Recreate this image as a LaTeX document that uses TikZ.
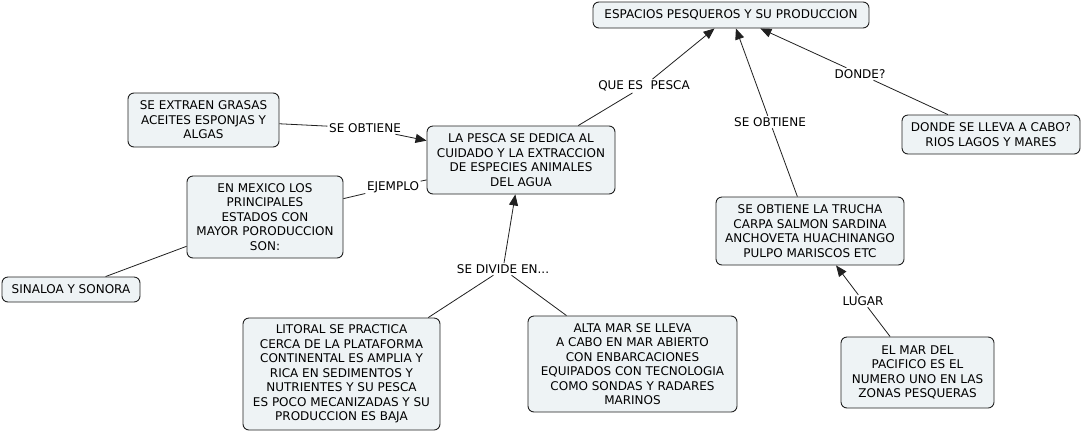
\documentclass[tikz,border=0pt]{standalone}
\usepackage{fontspec}
\setmainfont{DejaVu Sans}
\usetikzlibrary{arrows.meta}
\definecolor{boxfill}{HTML}{EEF3F5}
\definecolor{boxline}{HTML}{202020}
\tikzset{
  concept/.style={draw=boxline, line width=0.9pt, fill=boxfill, rounded corners=6pt,
    align=center, inner sep=0pt, font=\fontsize{12}{14.5}\selectfont},
  linkl/.style={inner sep=1.5pt, font=\fontsize{12}{14.5}\selectfont},
  conn/.style={line width=0.8pt, draw=boxline},
  arr/.style={conn, -{Triangle[length=11pt,width=9pt]}}
}
\begin{document}
\begin{tikzpicture}[x=1pt,y=-1pt]
\useasboundingbox (0,0) rectangle (1083,432);
\fill[white] (0,0) rectangle (1083,432);

\node[concept, minimum width=276pt, minimum height=26pt] (top) at (731,15) {ESPACIOS PESQUEROS Y SU PRODUCCION};
\node[concept, minimum width=188pt, minimum height=68pt] (pesca) at (521,160) {LA PESCA SE DEDICA AL\\CUIDADO Y LA EXTRACCION\\DE ESPECIES ANIMALES\\DEL AGUA};
\node[concept, minimum width=151pt, minimum height=54pt] (extraen) at (203.5,120) {SE EXTRAEN GRASAS\\ACEITES ESPONJAS Y\\ALGAS};
\node[concept, minimum width=156pt, minimum height=82pt] (mexico) at (265,217) {EN MEXICO LOS\\PRINCIPALES\\ESTADOS CON\\MAYOR PORODUCCION\\SON:};
\node[concept, minimum width=138pt, minimum height=25pt] (sinaloa) at (71,289.5) {SINALOA Y SONORA};
\node[concept, minimum width=197pt, minimum height=112pt] (litoral) at (341.5,374) {LITORAL SE PRACTICA\\CERCA DE LA PLATAFORMA\\CONTINENTAL ES AMPLIA Y\\RICA EN SEDIMENTOS Y\\NUTRIENTES Y SU PESCA\\ES POCO MECANIZADAS Y SU\\PRODUCCION ES BAJA};
\node[concept, minimum width=209pt, minimum height=96pt] (alta) at (632.5,364) {ALTA MAR SE LLEVA\\A CABO EN MAR ABIERTO\\CON ENBARCACIONES\\EQUIPADOS CON TECNOLOGIA\\COMO SONDAS Y RADARES\\MARINOS};
\node[concept, minimum width=188pt, minimum height=68pt] (trucha) at (810,231) {SE OBTIENE LA TRUCHA\\CARPA SALMON SARDINA\\ANCHOVETA HUACHINANGO\\PULPO MARISCOS ETC};
\node[concept, minimum width=178pt, minimum height=39pt] (donde) at (991,134.5) {DONDE SE LLEVA A CABO?\\RIOS LAGOS Y MARES};
\node[concept, minimum width=153pt, minimum height=71pt] (mar) at (917.5,372.5) {EL MAR DEL\\PACIFICO ES EL\\NUMERO UNO EN LAS\\ZONAS PESQUERAS};

\node[linkl] (lque) at (644,86) {QUE ES\ \ PESCA};
\node[linkl] (lobt2) at (770,122) {SE OBTIENE};
\node[linkl] (ldonde) at (860,74) {DONDE?};
\node[linkl] (lobt1) at (365,128) {SE OBTIENE};
\node[linkl] (lejem) at (393,187) {EJEMPLO};
\node[linkl] (ldiv) at (503,269) {SE DIVIDE EN...};
\node[linkl] (llugar) at (863,301) {LUGAR};

\draw[conn] (pesca) -- (lque);
\draw[arr] (lque) -- (top);
\draw[conn] (trucha) -- (lobt2);
\draw[arr] (lobt2) -- (top);
\draw[conn] (donde) -- (ldonde);
\draw[arr] (ldonde) -- (top);
\draw[conn] (extraen) -- (lobt1);
\draw[arr] (lobt1) -- (pesca);
\draw[conn] (mexico) -- (lejem);
\draw[conn] (lejem) -- (pesca);
\draw[conn] (mexico) -- (sinaloa);
\draw[conn] (litoral) -- (ldiv);
\draw[conn] (alta) -- (ldiv);
\draw[arr] (ldiv) -- (pesca);
\draw[conn] (mar) -- (llugar);
\draw[arr] (llugar) -- (trucha);
\end{tikzpicture}
\end{document}
